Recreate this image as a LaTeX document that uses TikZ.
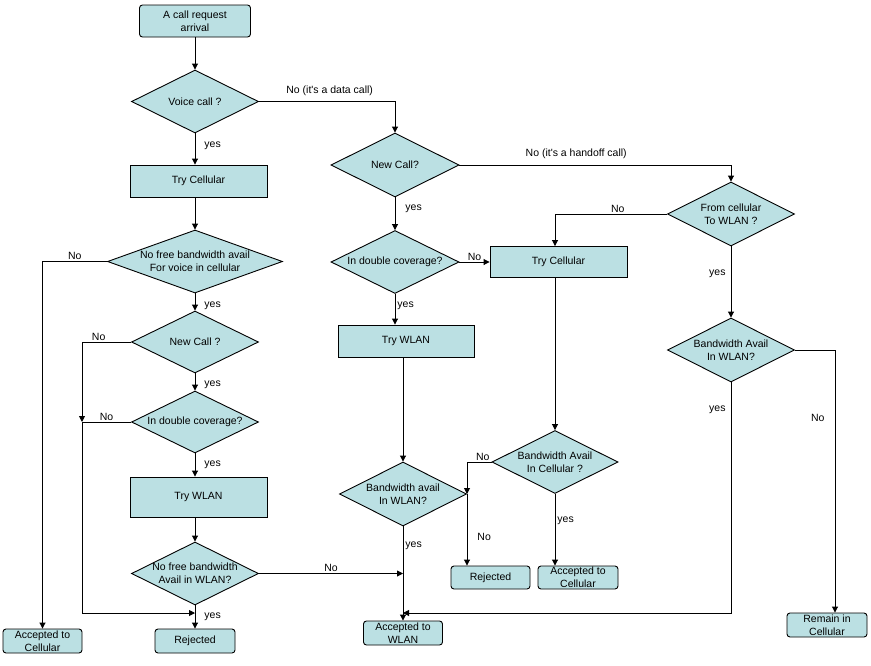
\documentclass[tikz,border=0pt]{standalone}
\usepackage{fontspec}
\setmainfont{Liberation Sans}[Ligatures=TeXOff]
\usetikzlibrary{shapes.geometric, arrows.meta, positioning}
\definecolor{flowfill}{RGB}{187,224,227}

\begin{document}
\begin{tikzpicture}[
  x=1pt, y=-1pt, line width=0.9pt,
  font=\fontsize{10.5}{13}\selectfont,
  box/.style={draw, fill=flowfill, align=center, inner sep=0pt},
  term/.style={box, rounded corners=3pt},
  dec/.style={draw, fill=flowfill, diamond, inner sep=0pt,
              minimum width=127pt, minimum height=63pt},
  dtxt/.style={align=center, inner sep=0pt},
  arr/.style={-{Triangle[length=6pt, width=6pt]}},
  lbl/.style={inner sep=1pt}
]
\useasboundingbox (0,0) rectangle (871,665);

% left column: voice calls
\node[term, minimum width=111pt, minimum height=32pt] (start) at (195,21) {A call request\\arrival};
\node[dec, label={[dtxt]center:Voice call ?}] (voice) at (195,101.5) {};
\node[box, minimum width=137pt, minimum height=32pt] (trycell) at (198.5,181) {Try Cellular};
\node[dec, minimum width=175pt, label={[dtxt]center:No free bandwidth avail\\For voice in cellular}] (nofreecell) at (195,261.5) {};
\node[dec, minimum height=62pt, label={[dtxt]center:New Call ?}] (newcall) at (195,342) {};
\node[dec, minimum height=62pt, label={[dtxt]center:In double coverage?}] (dblcov) at (195,422) {};
\node[box, minimum width=137pt, minimum height=40pt] (trywlan) at (198.5,497) {Try WLAN};
\node[dec, label={[dtxt]center:No free bandwidth\\Avail in WLAN?}] (nofreewlan) at (195,573.5) {};
\node[term, minimum width=80pt, minimum height=24pt] (rej) at (195,641) {Rejected};
\node[term, minimum width=79pt, minimum height=24pt] (acccell) at (42.5,641) {Accepted to\\Cellular};

% middle: data calls
\node[dec, minimum width=128pt, minimum height=64pt, label={[dtxt]center:New Call?}] (datanew) at (395,165) {};
\node[dec, minimum width=128pt, label={[dtxt]center:In double coverage?}] (datadbl) at (395,262) {};
\node[box, minimum width=137pt, minimum height=31pt] (trycell2) at (558.5,262) {Try Cellular};
\node[box, minimum width=136pt, minimum height=32pt] (trywlan2) at (406,341) {Try WLAN};
\node[dec, minimum height=64pt, label={[dtxt]center:Bandwidth avail\\In WLAN?}] (bwwlan) at (403,494) {};
\node[dec, minimum width=126pt, label={[dtxt]center:Bandwidth Avail\\In Cellular ?}] (bwcell) at (555,462) {};
\node[term, minimum width=79pt, minimum height=23pt] (rej2) at (490.5,577.5) {Rejected};
\node[term, minimum width=80pt, minimum height=23pt] (acccell2) at (578,577.5) {Accepted to\\Cellular};
\node[term, minimum width=79pt, minimum height=24pt] (accwlan) at (403,633) {Accepted to\\WLAN};

% right: handoff calls
\node[dec, minimum height=64pt, label={[dtxt]center:From cellular\\To WLAN ?}] (fromcell) at (731,214) {};
\node[dec, minimum height=64pt, label={[dtxt]center:Bandwidth Avail\\In WLAN?}] (bwwlan2) at (731,350) {};
\node[term, minimum width=80pt, minimum height=24pt] (remain) at (827,625) {Remain in\\Cellular};

\coordinate (jl) at (82,422);
\coordinate (jr) at (195,613);
\coordinate (jm) at (403,573.5);
\coordinate (jw) at (403,613);
\coordinate (jc) at (467,494);

\draw[arr] (start) -- (voice);
\draw[arr] (voice.south) -- (voice.south |- trycell.north) node[lbl, pos=0.4, right=8pt] {yes};
\draw[arr] (voice.east) -| (datanew.north) node[lbl, pos=0.26, above=4.5pt] {No (it's a data call)};
\draw[arr] (nofreecell.north |- trycell.south) -- (nofreecell.north);
\draw[arr] (nofreecell.west) -| (acccell.north) node[lbl, pos=0.25, above] {No};
\draw[arr] (nofreecell.south) -- (newcall.north) node[lbl, pos=0.7, right=8pt] {yes};
\draw[arr] (newcall.west) -| (jl) node[lbl, pos=0.33, above] {No};
\draw[arr] (newcall.south) -- (dblcov.north) node[lbl, pos=0.67, right=8pt] {yes};
\draw (dblcov.west) -- (jl) node[lbl, midway, above] {No};
\draw[arr] (jl) |- (jr);
\draw[arr] (dblcov.south) -- (dblcov.south |- trywlan.north) node[lbl, midway, right=8pt] {yes};
\draw[arr] (nofreewlan.north |- trywlan.south) -- (nofreewlan.north);
\draw[arr] (nofreewlan.south) -- (rej.north) node[lbl, midway, right=8pt] {yes};
\draw[arr] (nofreewlan.east) -- (jm) node[lbl, midway, above] {No};

\draw[arr] (datanew.south) -- (datadbl.north) node[lbl, pos=0.36, right=9pt] {yes};
\draw[arr] (datanew.east) -| (fromcell.north) node[lbl, pos=0.215, above=4.5pt] {No (it's a handoff call)};
\draw[arr] (datadbl.east) -- (trycell2.west) node[lbl, midway, above] {No};
\draw[arr] (datadbl.south) -- (datadbl.south |- trywlan2.north) node[lbl, pos=0.37, right=1pt] {yes};
\draw[arr] (bwwlan.north |- trywlan2.south) -- (bwwlan.north);
\draw[arr] (bwwlan.south) -- (accwlan.north) node[lbl, pos=0.2, right=1pt] {yes};
\draw[arr] (bwcell.north |- trycell2.south) -- (bwcell.north);
\draw[arr] (bwcell.west) -| (jc) node[lbl, pos=0.18, above] {No};
\draw (bwwlan.east) -- (jc);
\draw[arr] (jc) -- (jc |- rej2.north) node[lbl, pos=0.6, right=9pt] {No};
\draw[arr] (bwcell.south) -- (bwcell.south |- acccell2.north) node[lbl, pos=0.38, right=1pt] {yes};

\draw[arr] (fromcell.west) -| (bwcell.north |- trycell2.north) node[lbl, pos=0.22, above] {No};
\draw[arr] (fromcell.south) -- (bwwlan2.north) node[lbl, pos=0.38, left=4pt] {yes};
\draw[arr] (bwwlan2.east) -| ([xshift=8pt]remain.north) node[lbl, pos=0.63, left=9pt] {No};
\draw[arr] (bwwlan2.south) |- (jw) node[lbl, pos=0.06, left=4pt] {yes};
\end{tikzpicture}
\end{document}
